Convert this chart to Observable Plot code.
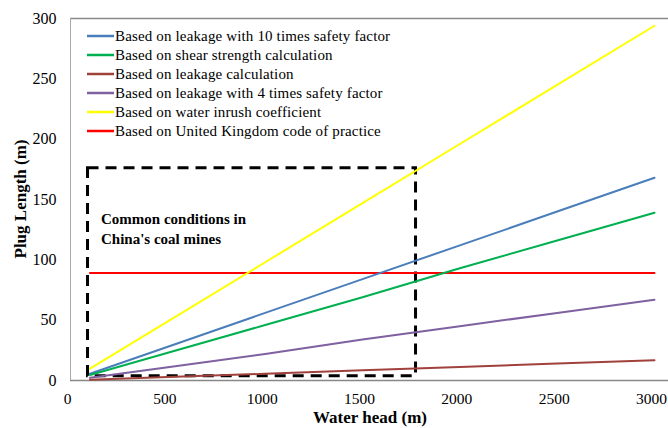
<!DOCTYPE html>
<html><head><meta charset="utf-8">
<script src="https://cdn.jsdelivr.net/npm/d3@7"></script>
<script src="https://cdn.jsdelivr.net/npm/@observablehq/plot@0.6"></script>
<style>body{margin:0;background:#fff} svg text{font-family:"Liberation Serif","Times New Roman",serif !important}</style>
</head><body><div id="chart"></div>
<script>
const waterHead = [100, 500, 1000, 1500, 2000, 2500, 3000];
const seriesNames = [
  "Based on leakage with 10 times safety factor",
  "Based on shear strength calculation",
  "Based on leakage calculation",
  "Based on leakage with 4 times safety factor",
  "Based on water inrush coefficient",
  "Based on United Kingdom code of practice"
];
const leakage10 = [5.6, 28, 56, 84, 112, 140, 168];
const shear = [4.6, 23, 46, 69, 93, 116, 139];
const leakage = [0.6, 2.8, 5.6, 8.4, 11.2, 14, 16.8];
const leakage4 = [2.2, 11, 22, 34, 45, 56, 67];
const inrush = [9.8, 49, 98, 147, 196, 245, 294];
const ukCode = [89, 89, 89, 89, 89, 89, 89];
const colors = ["#4a7ebb", "#00b050", "#a0413c", "#7f60a0", "#ffff00", "#ff0000"];
const xTicks = [0, 500, 1000, 1500, 2000, 2500, 3000];
const yTicks = [0, 50, 100, 150, 200, 250, 300];
const boxX = [90, 1775];
const boxY = [3.5, 176];
const noteLines = ["Common conditions in", "China's coal mines"];

const allSeries = [leakage10, shear, leakage, leakage4, inrush, ukCode];
const rows = [];
allSeries.forEach((vals, i) => vals.forEach((v, j) => rows.push({x: waterHead[j], y: v, s: seriesNames[i]})));
const drawOrder = [seriesNames[5], seriesNames[4], seriesNames[0], seriesNames[1], seriesNames[3], seriesNames[2]];

const font = "Liberation Serif, Times New Roman, serif";
const chart = Plot.plot({
  width: 668, height: 428,
  marginLeft: 70, marginRight: 14, marginTop: 18, marginBottom: 48,
  style: {fontFamily: font, fontSize: "16px", color: "#000", background: "#fff"},
  x: {domain: [0, 3000], label: null},
  y: {domain: [0, 300], label: null},
  marks: [
    Plot.axisX({ticks: xTicks, tickSize: 0, tickPadding: 12, label: null, tickFormat: d => String(d), fontSize: 15.5, dx: -3}),
    Plot.axisY({ticks: yTicks, tickSize: 0, tickPadding: 14, label: null, tickFormat: d => String(d)}),
    Plot.ruleY([0, 300], {x1: 0, x2: 3075, stroke: "#888", strokeWidth: 1.5, clip: false}),
    Plot.ruleX([0], {y1: 0, y2: 300, stroke: "#aaa", strokeWidth: 1}),
    Plot.rect([{x1: boxX[0], x2: boxX[1], y1: boxY[0], y2: boxY[1]}], {x1: "x1", x2: "x2", y1: "y1", y2: "y2", fill: "none", stroke: "#000", strokeWidth: 3, strokeDasharray: "11,7"}),
    ...drawOrder.map(name => Plot.line(rows.filter(r => r.s === name), {x: "x", y: "y", stroke: colors[seriesNames.indexOf(name)], strokeWidth: 2}))
  ]
});
document.getElementById("chart").appendChild(chart);

const svg = d3.select(chart).attr("font-family", font);
svg.append("g").attr("text-anchor", "start").attr("font-weight", "bold").attr("font-size", 15)
  .selectAll("text").data(noteLines).join("text")
  .attr("x", 101).attr("y", (d, i) => 224 + i * 20).text(d => d);

// legend
const lg = svg.append("g").attr("text-anchor", "start");
seriesNames.forEach((name, i) => {
  const y = 36 + i * 19;
  lg.append("line").attr("x1", 87).attr("x2", 114).attr("y1", y).attr("y2", y).attr("stroke", colors[i]).attr("stroke-width", 2.5);
  lg.append("text").attr("x", 115).attr("y", y).attr("dy", "0.35em").attr("font-size", 15).attr("letter-spacing", 0.15).text(name);
});
// axis titles
svg.append("text").attr("x", 370).attr("y", 423).attr("text-anchor", "middle").attr("font-weight", "bold").attr("font-size", 17).text("Water head (m)");
svg.append("text").attr("transform", "translate(26,199) rotate(-90)").attr("text-anchor", "middle").attr("font-weight", "bold").attr("font-size", 17).text("Plug Length (m)");
</script></body></html>
